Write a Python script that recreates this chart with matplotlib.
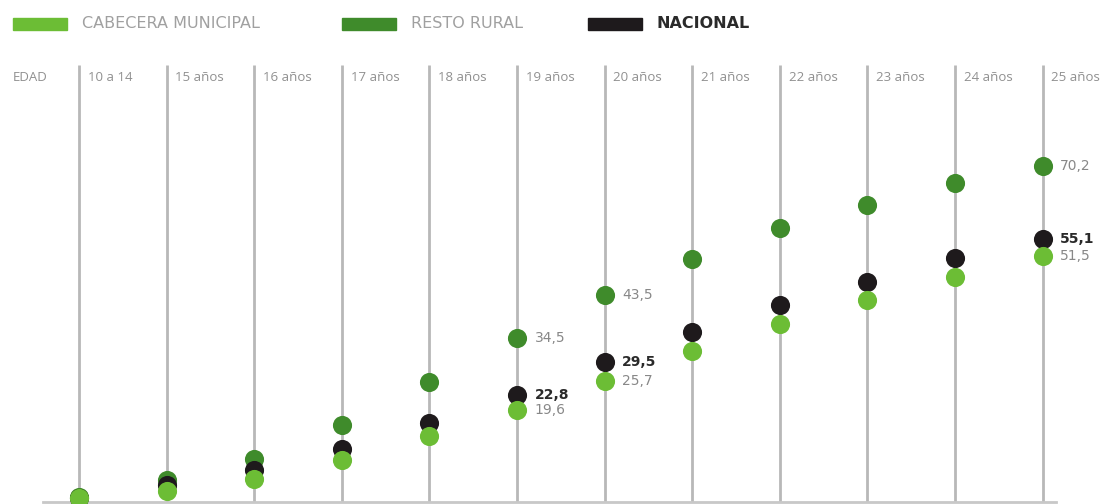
import matplotlib.pyplot as plt
from matplotlib.patches import Rectangle

edades = ["10 a 14", "15 años", "16 años", "17 años", "18 años", "19 años",
          "20 años", "21 años", "22 años", "23 años", "24 años", "25 años"]
cabecera = [1.3, 2.8, 5.3, 9.3, 14.2, 19.6, 25.7, 31.8, 37.4, 42.4, 47.1, 51.5]
resto = [1.5, 5.1, 9.5, 16.5, 25.4, 34.5, 43.5, 50.8, 57.2, 62.0, 66.6, 70.2]
nacional = [1.4, 4.1, 7.2, 11.5, 16.9, 22.8, 29.5, 35.7, 41.3, 46.1, 51.0, 55.1]
etiquetados = [5, 6, 11]  # columnas con valores escritos

c_cab = "#6cbd35"
c_resto = "#3f8b2b"
c_nac = "#1e1a1c"
gris = "#b8b8b8"

fig = plt.figure(figsize=(11.17, 5.04), dpi=100)
ax = fig.add_axes([0, 0, 1, 1])
ax.set_xlim(-0.902, 11.849)
ax.set_ylim(0.145, 104.5)
ax.axis("off")

x = list(range(len(edades)))

# lineas verticales y encabezado
for i, e in enumerate(edades):
    ax.plot([i, i], [0.56, 91.0], color=gris, lw=2, zorder=1, solid_capstyle="butt")
    ax.text(i + 0.1, 88.4, e, fontsize=9.5, color="#909090", va="center", ha="left",
            family="Open Sans")
ax.text(-0.76, 88.4, "EDAD", fontsize=9.5, color="#909090", va="center", ha="left",
        family="Open Sans")
ax.plot([-0.41, 11.15], [0.56, 0.56], color="#c8c8c8", lw=2, zorder=1)

s = 190
ax.scatter(x, resto, s=s, color=c_resto, zorder=3, clip_on=False, linewidths=0)
ax.scatter(x, nacional, s=s, color=c_nac, zorder=4, clip_on=False, linewidths=0)
ax.scatter(x, cabecera, s=s, color=c_cab, zorder=5, clip_on=False, linewidths=0)

def fmt(v):
    return ("%.1f" % v).replace(".", ",")

for i in etiquetados:
    ax.text(i + 0.2, resto[i], fmt(resto[i]), fontsize=10, color="#888888",
            va="center", ha="left")
    ax.text(i + 0.2, nacional[i], fmt(nacional[i]), fontsize=10, color="#2a2a2a",
            fontweight="bold", va="center", ha="left")
    ax.text(i + 0.2, cabecera[i], fmt(cabecera[i]), fontsize=10, color="#888888",
            va="center", ha="left")

# leyenda
W, H = 1117, 504
ley = [("CABECERA MUNICIPAL", c_cab, 13, "normal", "#a0a0a0"),
       ("RESTO RURAL", c_resto, 342, "normal", "#a0a0a0"),
       ("NACIONAL", c_nac, 588, "bold", "#2a2a2a")]
for txt, col, px, fw, tc in ley:
    fig.patches.append(Rectangle((px / W, 1 - 30 / H), 54 / W, 12 / H,
                                 transform=fig.transFigure, color=col))
    fig.text((px + 69) / W, 1 - 23.5 / H, txt, fontsize=11.5, color=tc, fontweight=fw,
             va="center", ha="left")

fig.savefig("out.png", dpi=100)
